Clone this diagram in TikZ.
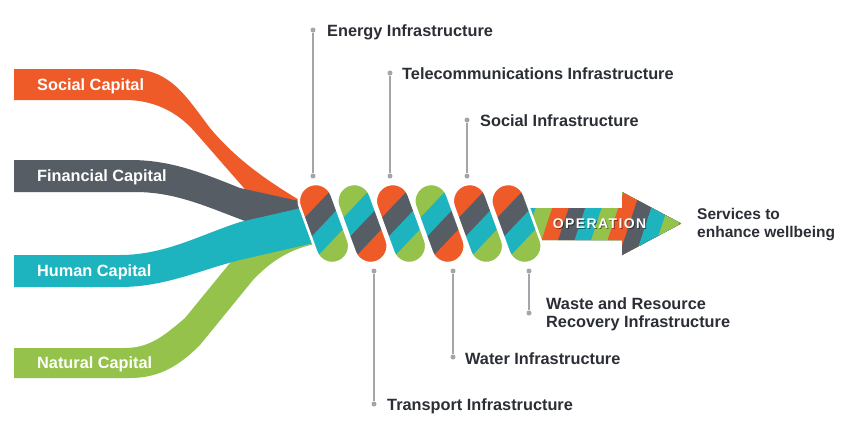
\documentclass[tikz,border=0pt]{standalone}
\usepackage{fontspec}
\setmainfont{Liberation Sans}
\newfontfamily\opfont[LetterSpace=10]{Liberation Sans}
\definecolor{cor}{HTML}{EF5A29}
\definecolor{cgr}{HTML}{565D65}
\definecolor{ccy}{HTML}{1DB4BF}
\definecolor{cgn}{HTML}{95C24A}
\definecolor{ctx}{HTML}{2B2E35}
\definecolor{cln}{HTML}{A2A6AA}
\begin{document}
\begin{tikzpicture}[x=1pt,y=-1pt,
  lbl/.style={font=\fontsize{16.3}{19}\selectfont\bfseries, text=ctx, inner sep=0pt, anchor=base west},
  svc/.style={font=\fontsize{15.5}{18}\selectfont\bfseries, text=ctx, inner sep=0pt, anchor=base west},
  capl/.style={font=\fontsize{16.3}{19}\selectfont\bfseries, text=white, inner sep=0pt, anchor=base west},
  lead/.style={draw=cln, line width=1.6pt},
  dotc/.style={fill=cln, circle, inner sep=0pt, minimum size=5pt},
  opst/.style={font=\opfont\bfseries\fontsize{14}{14}\selectfont, inner sep=0pt, anchor=base},
]
\useasboundingbox[fill=white] (0,0) rectangle (850,437);

% ---- capital bands ----
\fill[cor] (14,69) -- (130,69) .. controls (170,69) and (185,95) .. (210,128)
  .. controls (235,158) and (265,180) .. (306,204) -- (310,214) -- (250,195)
  -- (195,132) .. controls (175,109) and (150,100) .. (125,100) -- (14,100) -- cycle;
\fill[cgr] (14,160) -- (130,160) .. controls (170,160) and (200,172) .. (240,188)
  -- (308,203) -- (312,220) -- (245,221) .. controls (205,206) and (175,192) .. (135,192)
  -- (14,192) -- cycle;
\fill[cgn] (14,348) -- (125,348) .. controls (150,348) and (165,335) .. (185,318)
  -- (230,263) .. controls (250,250) and (280,243) .. (318,238) -- (320,243)
  .. controls (290,248) and (270,262) .. (253,280) -- (200,345)
  .. controls (180,365) and (160,378) .. (130,378) -- (14,378) -- cycle;
\fill[ccy] (14,255) -- (120,255) .. controls (165,255) and (200,235) .. (240,222)
  -- (310,206) -- (318,242) -- (240,260) .. controls (200,270) and (165,287) .. (120,287)
  -- (14,287) -- cycle;

% ---- arrow ----
\begin{scope}
  \clip (530,208) -- (622,208) -- (622,192) -- (681,223.5) -- (622,255) -- (622,240) -- (530,240) -- cycle;
  \foreach \k/\c in {-2/ccy,-1/cgn,0/cor,1/cgr,2/ccy,3/cgn,4/cor,5/cgr,6/ccy,7/cgn,8/cor}{
    \pgfmathsetmacro{\xk}{547+16.5*\k}
    \fill[\c] ({\xk+14.4},180) -- (720,180) -- (720,270) -- ({\xk-15.3},270) -- cycle;
  }
\end{scope}
\node[opst, text=black, opacity=0.45] (opshadow) at (600.5,229.3) {OPERATION};
\node[opst, text=white] (op) at (599.5,228.3) {OPERATION};

% ---- twisted pills ----
\foreach \i/\a/\b/\c/\d in {0/cor/cgr/ccy/cgn, 1/cgn/ccy/cgr/cor, 2/cor/cgr/ccy/cgn,
                           3/cgn/ccy/cgr/cor, 4/cor/cgr/ccy/cgn, 5/cor/cgr/ccy/cgn}{
  \begin{scope}[shift={({324+38.5*\i},223.5)}, rotate=20]
    \begin{scope}
      \clip[rounded corners=17pt] (-17,-41) rectangle (17,41);
      \fill[\a] (-22,-55) rectangle (22,55);
      \fill[\b] (-22,-9) -- (22,-31) -- (22,55) -- (-22,55) -- cycle;
      \fill[\c] (-22,11) -- (22,-11) -- (22,55) -- (-22,55) -- cycle;
      \fill[\d] (-22,31) -- (22,9) -- (22,55) -- (-22,55) -- cycle;
    \end{scope}
    \draw[white, line width=2.5pt, rounded corners=17pt] (-17,-41) rectangle (17,41);
  \end{scope}
}

% ---- capital labels ----
\node[capl] (soc) at (37,90) {Social Capital};
\node[capl] (fin) at (37,181.7) {Financial Capital};
\node[capl] (hum) at (37,276.7) {Human Capital};
\node[capl] (nat) at (37,368.3) {Natural Capital};

% ---- leader lines ----
\node[dotc] (e1) at (313,30) {};   \node[dotc] (e2) at (313,176) {};
\node[dotc] (t1) at (390,73) {};   \node[dotc] (t2) at (390,176) {};
\node[dotc] (s1) at (467,120) {};  \node[dotc] (s2) at (467,176) {};
\node[dotc] (p1) at (374,271) {};  \node[dotc] (p2) at (374,404) {};
\node[dotc] (w1) at (453,271) {};  \node[dotc] (w2) at (453,357) {};
\node[dotc] (r1) at (529,271) {};  \node[dotc] (r2) at (529,313) {};
\draw[lead] (e1) -- (e2);
\draw[lead] (t1) -- (t2);
\draw[lead] (s1) -- (s2);
\draw[lead] (p1) -- (p2);
\draw[lead] (w1) -- (w2);
\draw[lead] (r1) -- (r2);

% ---- infrastructure labels ----
\node[lbl] (energy) at (327,36) {Energy Infrastructure};
\node[lbl] (tele) at (402,79.3) {Telecommunications Infrastructure};
\node[lbl] (socinf) at (480,126.7) {Social Infrastructure};
\node[lbl] (transp) at (387,410.7) {Transport Infrastructure};
\node[lbl] (water) at (465,364.3) {Water Infrastructure};
\node[lbl] (waste1) at (546,309) {Waste and Resource};
\node[lbl] (waste2) at (546,327.3) {Recovery Infrastructure};
\node[svc] (serv1) at (697,219.3) {Services to};
\node[svc] (serv2) at (697,237.7) {enhance wellbeing};
\end{tikzpicture}
\end{document}
